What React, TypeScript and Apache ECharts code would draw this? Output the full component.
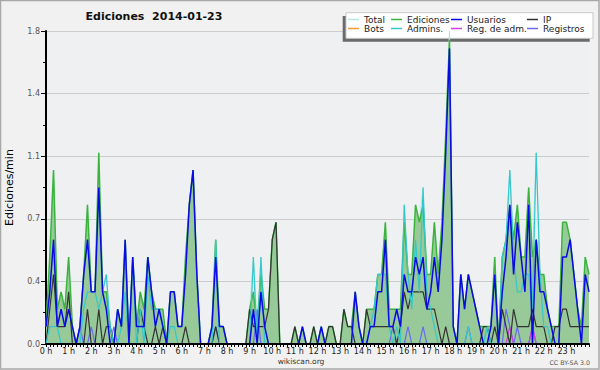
import React, { useEffect, useRef } from "react";
import * as echarts from "echarts";

// 10-minute bins, values in edits per minute
const STEP_MIN = 10;

const hourLabels = [
  "0 h", "1 h", "2 h", "3 h", "4 h", "5 h", "6 h", "7 h", "8 h", "9 h", "10 h", "11 h",
  "12 h", "13 h", "14 h", "15 h", "16 h", "17 h", "18 h", "19 h", "20 h", "21 h", "22 h", "23 h",
];

const yTicks = [0, 0.36, 0.72, 1.08, 1.44, 1.8];

const ediciones = [
  0.1, 0.5, 1.0, 0.2, 0.3, 0.2,
  0.5, 0.1, 0, 0.1, 0.4, 0.8,
  0.3, 0.3, 1.1, 0.3, 0.3, 0.1,
  0, 0.2, 0.1, 0.6, 0, 0.5,
  0.1, 0.3, 0.2, 0.5, 0.3, 0.2,
  0.2, 0.2, 0, 0.3, 0.3, 0.1,
  0.1, 0.5, 0.8, 1.0, 0.4, 0,
  0, 0, 0.1, 0.6, 0.1, 0.1,
  0, 0, 0, 0, 0, 0,
  0.2, 0.3, 0.1, 0.4, 0.2, 0.2,
  0.6, 0.7, 0, 0, 0, 0,
  0.1, 0, 0.1, 0, 0, 0.1,
  0, 0.1, 0, 0.1, 0.1, 0,
  0, 0.2, 0.1, 0.1, 0.3, 0.1,
  0, 0.2, 0.2, 0.2, 0.4, 0.4,
  0.7, 0.2, 0.2, 0.2, 0.2, 0.7,
  0.4, 0.4, 0.8, 0.7, 0.8, 0.4,
  0.4, 0.7, 0.4, 0.7, 1.2, 1.75,
  0.1, 0, 0.4, 0.2, 0.4, 0.3,
  0.2, 0.1, 0.1, 0.1, 0.1, 0.5,
  0, 0.5, 0.6, 0.8, 0.6, 0.8,
  0.5, 0.5, 0.9, 0.5, 0.6, 0.4,
  0.4, 0.2, 0.1, 0.1, 0.1, 0.7,
  0.7, 0.6, 0.4, 0.2, 0.1, 0.5,
  0.4,
];

const total = [
  0.1, 0.5, 1.0, 0.2, 0.3, 0.2,
  0.5, 0.1, 0, 0.1, 0.4, 0.8,
  0.3, 0.3, 1.1, 0.3, 0.4, 0.1,
  0, 0.2, 0.1, 0.6, 0, 0.5,
  0.1, 0.3, 0.2, 0.5, 0.3, 0.2,
  0.2, 0.2, 0, 0.3, 0.3, 0.1,
  0.1, 0.5, 0.8, 1.0, 0.4, 0,
  0, 0, 0.1, 0.6, 0.1, 0.1,
  0, 0, 0, 0, 0, 0,
  0.2, 0.5, 0.1, 0.5, 0.2, 0.2,
  0.6, 0.7, 0, 0, 0, 0,
  0.1, 0, 0.1, 0, 0, 0.1,
  0, 0.1, 0, 0.1, 0.1, 0,
  0, 0.2, 0.1, 0.1, 0.3, 0.1,
  0, 0.2, 0.2, 0.2, 0.4, 0.4,
  0.7, 0.2, 0.2, 0.2, 0.2, 0.8,
  0.4, 0.4, 0.8, 0.7, 0.9, 0.4,
  0.4, 0.7, 0.4, 0.7, 1.2, 1.8,
  0.1, 0, 0.4, 0.2, 0.4, 0.3,
  0.2, 0.1, 0.1, 0.1, 0.1, 0.5,
  0, 0.5, 0.6, 1.0, 0.6, 0.8,
  0.5, 0.5, 0.9, 0.5, 1.1, 0.4,
  0.4, 0.2, 0.1, 0.1, 0.1, 0.7,
  0.7, 0.6, 0.4, 0.2, 0.1, 0.5,
  0.4,
];

const usuarios = [
  0.1, 0.3, 0.6, 0.1, 0.2, 0.1,
  0.2, 0.1, 0, 0.1, 0.4, 0.6,
  0.3, 0.3, 0.9, 0.3, 0.2, 0,
  0, 0.2, 0.1, 0.6, 0, 0.5,
  0.1, 0.1, 0.1, 0.5, 0.3, 0.1,
  0.2, 0.1, 0, 0.3, 0.3, 0.1,
  0.1, 0.4, 0.8, 1.0, 0.4, 0,
  0, 0, 0.1, 0.5, 0.1, 0.1,
  0, 0, 0, 0, 0, 0,
  0, 0.2, 0, 0.3, 0.1, 0,
  0, 0, 0, 0, 0, 0,
  0, 0, 0.1, 0, 0, 0,
  0, 0.1, 0, 0, 0, 0,
  0, 0, 0, 0, 0.3, 0.1,
  0, 0, 0.1, 0.1, 0.3, 0.3,
  0.6, 0.1, 0.1, 0.2, 0.1, 0.4,
  0.3, 0.3, 0.5, 0.4, 0.5, 0.2,
  0.3, 0.5, 0.3, 0.6, 1.1, 1.7,
  0.1, 0, 0.4, 0.2, 0.4, 0.3,
  0.2, 0.1, 0, 0, 0.1, 0.4,
  0, 0.3, 0.5, 0.8, 0.4, 0.7,
  0.5, 0.3, 0.8, 0, 0.6, 0.3,
  0.3, 0.2, 0.1, 0, 0, 0.5,
  0.5, 0.6, 0.4, 0.2, 0, 0.4,
  0.3,
];

const ip = [
  0, 0.2, 0.4, 0.1, 0.1, 0.1,
  0.3, 0, 0, 0, 0, 0.2,
  0, 0, 0.2, 0, 0.1, 0.1,
  0, 0, 0, 0, 0, 0,
  0, 0.2, 0.1, 0, 0, 0.1,
  0, 0.1, 0, 0, 0, 0,
  0, 0.1, 0, 0, 0, 0,
  0, 0, 0, 0.1, 0, 0,
  0, 0, 0, 0, 0, 0,
  0.2, 0.1, 0.1, 0.1, 0.1, 0.2,
  0.6, 0.7, 0, 0, 0, 0,
  0.1, 0, 0, 0, 0, 0.1,
  0, 0, 0, 0.1, 0.1, 0,
  0, 0.2, 0.1, 0.1, 0, 0,
  0, 0.2, 0.1, 0.1, 0.1, 0.1,
  0.1, 0.1, 0.1, 0, 0.1, 0.3,
  0.2, 0.3, 0.3, 0.3, 0.3, 0.2,
  0.2, 0.2, 0.1, 0, 0.1, 0,
  0, 0, 0, 0, 0, 0,
  0, 0, 0.1, 0.1, 0, 0.1,
  0, 0.2, 0.1, 0, 0.2, 0.1,
  0.1, 0.1, 0.1, 0.2, 0.1, 0.1,
  0.1, 0, 0, 0.1, 0.1, 0.2,
  0.2, 0.1, 0.1, 0.1, 0.1, 0.1,
  0.1,
];

const admins = [
  0, 0.1, 0.1, 0.1, 0, 0,
  0, 0, 0, 0, 0.2, 0.3,
  0.3, 0.3, 0.2, 0.3, 0.4, 0.1,
  0, 0, 0.1, 0.3, 0, 0.5,
  0, 0.2, 0, 0.4, 0.2, 0.2,
  0.2, 0.1, 0, 0.1, 0.1, 0,
  0, 0, 0, 0, 0, 0,
  0, 0, 0, 0.6, 0, 0,
  0, 0, 0, 0, 0, 0,
  0, 0.5, 0, 0.5, 0, 0,
  0, 0, 0, 0, 0, 0,
  0, 0, 0, 0, 0, 0,
  0, 0, 0, 0, 0, 0,
  0, 0, 0, 0, 0, 0,
  0, 0, 0.1, 0.2, 0.4, 0.4,
  0.4, 0.1, 0, 0.1, 0, 0.8,
  0.4, 0.2, 0.6, 0.3, 0.9, 0.3,
  0.2, 0.1, 0, 0, 0, 0,
  0, 0, 0, 0, 0.1, 0,
  0, 0, 0, 0.1, 0, 0,
  0, 0.5, 0.6, 1.0, 0.5, 0.3,
  0.3, 0.4, 0.4, 0.2, 1.1, 0.4,
  0.1, 0.1, 0, 0, 0, 0,
  0, 0, 0, 0, 0, 0,
  0,
];

const registros = [
  0, 0, 0, 0, 0, 0,
  0, 0, 0, 0.1, 0, 0,
  0.1, 0, 0, 0, 0, 0,
  0.1, 0, 0, 0, 0, 0,
  0, 0, 0, 0, 0, 0,
  0, 0, 0, 0, 0, 0,
  0, 0, 0, 0, 0, 0,
  0, 0, 0, 0.1, 0, 0,
  0, 0, 0, 0, 0, 0,
  0, 0, 0.2, 0, 0, 0,
  0, 0, 0, 0, 0, 0,
  0, 0, 0, 0, 0, 0,
  0, 0, 0, 0, 0, 0,
  0, 0, 0, 0, 0, 0,
  0, 0, 0, 0, 0, 0,
  0, 0, 0.1, 0, 0, 0,
  0.1, 0, 0, 0, 0.1, 0,
  0, 0, 0, 0, 0, 0,
  0, 0, 0, 0, 0.1, 0,
  0, 0, 0, 0, 0, 0,
  0, 0, 0.2, 0.1, 0, 0.1,
  0, 0, 0, 0.1, 0, 0,
  0, 0, 0, 0, 0, 0,
  0, 0, 0, 0, 0, 0,
  0,
];

const regAdm = [
  0, 0, 0, 0, 0, 0, 0, 0, 0, 0, 0, 0, 0, 0, 0, 0, 0, 0, 0, 0, 0, 0, 0, 0,
  0, 0, 0, 0, 0, 0, 0, 0, 0, 0, 0, 0, 0, 0, 0, 0, 0, 0, 0, 0, 0, 0, 0, 0,
  0, 0, 0, 0, 0, 0, 0, 0, 0, 0, 0, 0, 0, 0, 0, 0, 0, 0, 0, 0, 0, 0, 0, 0,
  0, 0, 0, 0, 0, 0, 0, 0, 0, 0, 0, 0, 0, 0, 0, 0, 0, 0, 0, 0, 0, 0, 0, 0,
  0, 0, 0, 0, 0, 0, 0, 0, 0, 0, 0, 0, 0, 0, 0, 0, 0, 0, 0, 0, 0, 0, 0, 0,
  0, 0, 0, 0.1, 0, 0, 0, 0, 0, 0.1, 0, 0, 0, 0, 0, 0, 0, 0, 0, 0, 0, 0, 0, 0,
  0,
];

const bots = [
  0, 0, 0, 0, 0, 0, 0, 0, 0, 0, 0, 0, 0, 0, 0, 0, 0, 0, 0, 0, 0, 0, 0, 0,
  0, 0, 0, 0, 0, 0, 0, 0, 0, 0, 0, 0, 0, 0, 0, 0, 0, 0, 0, 0, 0, 0, 0, 0,
  0, 0, 0, 0, 0, 0, 0, 0, 0, 0, 0, 0, 0, 0, 0, 0, 0, 0, 0, 0, 0, 0, 0, 0,
  0, 0, 0, 0, 0, 0, 0, 0, 0, 0, 0, 0, 0, 0, 0, 0, 0, 0, 0, 0, 0, 0, 0, 0,
  0, 0, 0, 0, 0, 0, 0, 0, 0, 0, 0, 0, 0, 0, 0, 0, 0, 0, 0, 0, 0, 0, 0, 0,
  0, 0, 0, 0, 0, 0, 0, 0, 0, 0, 0, 0, 0, 0, 0, 0, 0, 0, 0, 0, 0, 0, 0, 0,
  0,
];

const FONT = "DejaVu Sans";

const toPairs = (arr: number[]) => arr.map((v, i) => [i * STEP_MIN, v]);

const lineSeries = (name: string, data: number[], color: string, width: number, extra: any = {}) => ({
  name,
  type: "line",
  data: toPairs(data),
  symbol: "none",
  smooth: false,
  itemStyle: { color },
  lineStyle: { color, width },
  emphasis: { disabled: true },
  ...extra,
});

const legendCol = (left: number, names: string[]) => ({
  orient: "vertical",
  left,
  top: 15,
  padding: 0,
  itemGap: 0,
  itemWidth: 11,
  itemHeight: 1.5,
  icon: "rect",
  selectedMode: false,
  data: names,
  textStyle: { fontFamily: FONT, fontSize: 9, color: "#222", lineHeight: 9, padding: [0, 0, 0, 0] },
});

export default function App() {
  const ref = useRef<HTMLDivElement>(null);

  useEffect(() => {
    if (!ref.current) return;
    const chart = echarts.init(ref.current, undefined, { renderer: "svg" });
    chart.setOption({
      animation: false,
      backgroundColor: "#f1f1f1",
      grid: {
        left: 46,
        right: 11,
        top: 31,
        bottom: 26,
        containLabel: false,
        outerBoundsMode: "none",
        show: true,
        backgroundColor: "#eef0f2",
        borderWidth: 0,
      },
      legend: [
        legendCol(348, ["Total", "Bots"]),
        legendCol(391, ["Ediciones", "Admins."]),
        legendCol(451, ["Usuarios", "Reg. de adm."]),
        legendCol(527, ["IP", "Registros"]),
      ],
      xAxis: {
        type: "value",
        min: 0,
        max: 1440,
        interval: 60,
        z: 10,
        axisLine: { show: true, onZero: false, lineStyle: { color: "#000", width: 2 } },
        axisTick: { show: true, inside: false, length: 3, lineStyle: { color: "#000", width: 1 } },
        minorTick: { show: true, splitNumber: 6, length: 3, lineStyle: { color: "#000", width: 1 } },
        splitLine: { show: false },
        minorSplitLine: { show: false },
        axisLabel: {
          margin: 3,
          fontFamily: FONT,
          fontSize: 8,
          color: "#222",
          showMaxLabel: false,
          formatter: (v: number) => (v < 1440 ? hourLabels[Math.round(v / 60)] : ""),
        },
      },
      yAxis: {
        type: "value",
        min: 0,
        max: yTicks[yTicks.length - 1],
        interval: yTicks[1],
        name: "Ediciones/min",
        nameLocation: "middle",
        nameRotate: 90,
        nameGap: 31,
        nameTextStyle: { fontFamily: FONT, fontSize: 11, color: "#000" },
        axisLine: { show: true, lineStyle: { color: "#000", width: 2 } },
        axisTick: { show: true, inside: false, length: 5, lineStyle: { color: "#000", width: 1 } },
        minorTick: { show: true, splitNumber: 2, length: 3, lineStyle: { color: "#000", width: 1 } },
        splitLine: { show: true, lineStyle: { color: "#cccccc", width: 1 } },
        axisLabel: {
          margin: 6,
          fontFamily: FONT,
          fontSize: 8,
          color: "#555",
          formatter: (v: number) => v.toFixed(1),
        },
      },
      graphic: {
        elements: [
          {
            type: "rect",
            z: 0,
            silent: true,
            shape: { x: 0.5, y: 0.5, width: 598.5, height: 368.5 },
            style: { fill: "none", stroke: "#a8a8a8", lineWidth: 1.5 },
          },
          {
            type: "rect",
            z: 1,
            silent: true,
            shape: { x: 342.7, y: 16, width: 247, height: 25.7 },
            style: { fill: "#6a6a6a" },
          },
          {
            type: "rect",
            z: 1,
            silent: true,
            shape: { x: 346, y: 12.7, width: 247, height: 25.6 },
            style: { fill: "#ffffff", stroke: "#c8c8c8", lineWidth: 1 },
          },
          {
            type: "text",
            z: 5,
            x: 154,
            y: 16.5,
            style: {
              text: "Ediciones  2014-01-23",
              fontFamily: FONT,
              fontWeight: "bold",
              fontSize: 11,
              fill: "#111",
              align: "center",
              verticalAlign: "middle",
            },
          },
          {
            type: "text",
            z: 5,
            x: 301,
            y: 361,
            style: {
              text: "wikiscan.org",
              fontFamily: FONT,
              fontSize: 7.5,
              fill: "#333",
              align: "center",
              verticalAlign: "middle",
            },
          },
          {
            type: "text",
            z: 5,
            x: 590,
            y: 362,
            style: {
              text: "CC BY-SA 3.0",
              fontFamily: FONT,
              fontSize: 6.3,
              fill: "#555",
              align: "right",
              verticalAlign: "middle",
            },
          },
        ],
      },
      series: [
        lineSeries("Total", total, "#b4e4e4", 1),
        lineSeries("Ediciones", ediciones, "#3cb43c", 1.5, {
          areaStyle: { color: "#98c998", opacity: 1 },
        }),
        lineSeries("Bots", bots, "#ff9933", 1),
        lineSeries("Registros", registros, "#6b6bf0", 1.2),
        lineSeries("Reg. de adm.", regAdm, "#cc44dd", 1.2),
        lineSeries("IP", ip, "#333333", 1.2),
        lineSeries("Admins.", admins, "#33c8cc", 1.2),
        lineSeries("Usuarios", usuarios, "#0a0ae6", 1.5),
      ],
    });
    return () => chart.dispose();
  }, []);

  return (
    <div
      ref={ref}
      style={{ position: "absolute", left: 0, top: 0, width: 600, height: 370 }}
    />
  );
}
